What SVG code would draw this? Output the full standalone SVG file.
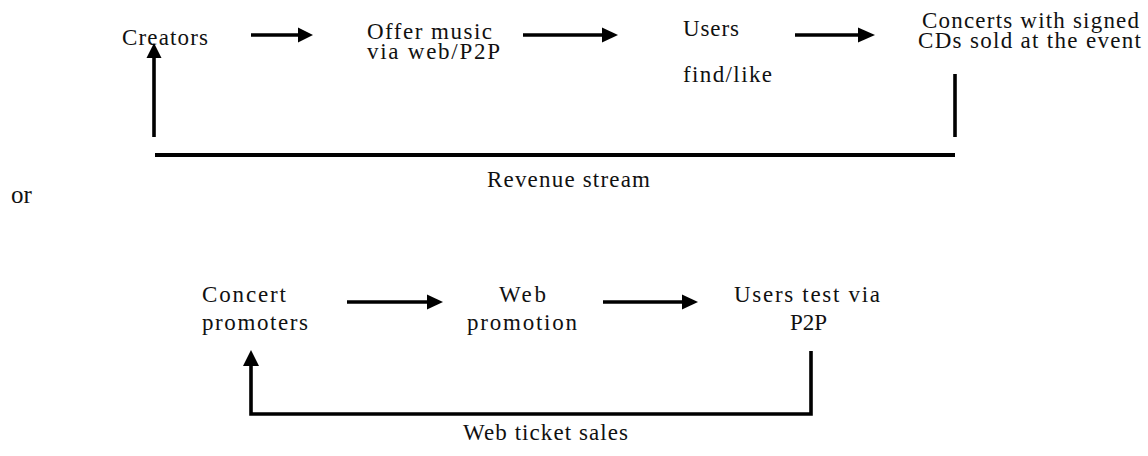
<svg xmlns="http://www.w3.org/2000/svg" width="1148" height="456" viewBox="0 0 1148 456">
<style>
text{font-family:"Liberation Serif","Times New Roman",serif;font-size:23px;fill:#111}
.ln{stroke:#000;stroke-width:3.6;fill:none}
.hd{fill:#000}
</style>
<rect width="1148" height="456" fill="#fff"/>
<g id="creators"><text x="122" y="45" textLength="86">Creators</text></g>
<g id="offer"><text x="367" y="39" textLength="125">Offer music</text><text x="367" y="59" textLength="133">via web/P2P</text></g>
<g id="users"><text x="683" y="36" textLength="56">Users</text><text x="683" y="82" textLength="89">find/like</text></g>
<g id="concerts"><text x="922" y="28" textLength="217">Concerts with signed</text><text x="918" y="48" textLength="223">CDs sold at the event</text></g>
<g id="revenue"><text x="487" y="187" textLength="163">Revenue stream</text></g>
<g id="or"><text x="11" y="203" style="font-size:25px">or</text></g>
<g id="promoters"><text x="202" y="302" textLength="84">Concert</text><text x="202" y="330" textLength="106">promoters</text></g>
<g id="webpromo"><text x="499" y="302" textLength="47">Web</text><text x="467" y="330" textLength="110">promotion</text></g>
<g id="userstest"><text x="734" y="302" textLength="146">Users test via</text><text x="808.5" y="330" text-anchor="middle">P2P</text></g>
<g id="ticket"><text x="463" y="440" textLength="165">Web ticket sales</text></g>
<g id="connectors">
<line class="ln" x1="251" y1="35" x2="300" y2="35"/><polygon class="hd" points="298,27.5 313,35 298,42.5"/>
<line class="ln" x1="523" y1="35" x2="604" y2="35"/><polygon class="hd" points="602,27.5 618,35 602,42.5"/>
<line class="ln" x1="795" y1="35" x2="860" y2="35"/><polygon class="hd" points="858,27.5 875,35 858,42.5"/>
<line class="ln" x1="154" y1="137" x2="154" y2="56"/><polygon class="hd" points="146.5,58 154,43 161.5,58"/>
<line class="ln" x1="955" y1="74" x2="955" y2="137"/>
<line class="ln" x1="155" y1="155" x2="955" y2="155" style="stroke-width:4"/>
<line class="ln" x1="347" y1="302" x2="429" y2="302"/><polygon class="hd" points="427,294.5 443,302 427,309.5"/>
<line class="ln" x1="603" y1="302" x2="684" y2="302"/><polygon class="hd" points="682,294.5 698,302 682,309.5"/>
<polyline class="ln" points="811,351 811,414 251,414 251,364"/><polygon class="hd" points="243,366 251,350 259,366"/>
</g>
</svg>
